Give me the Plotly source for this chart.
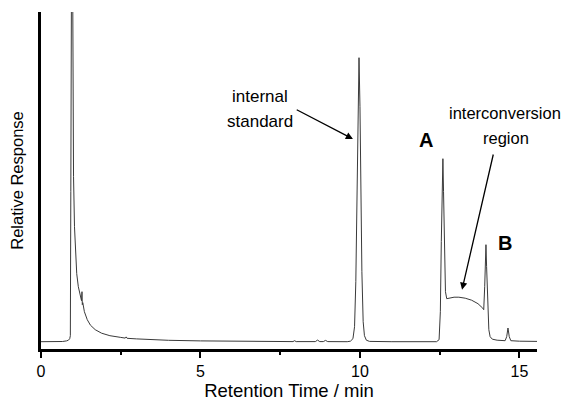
import plotly.graph_objects as go

# Chromatogram trace (time in min, response in arbitrary units above baseline)
time_min = [
    0.00, 0.40, 0.67, 0.80, 0.86, 0.90, 0.92, 0.935, 0.945, 0.965, 0.985, 0.995,
    1.00, 1.02, 1.05, 1.08, 1.12, 1.17, 1.22, 1.27, 1.285, 1.295, 1.31, 1.36,
    1.45, 1.55, 1.70, 1.90, 2.16, 2.50, 2.64, 2.67, 2.70, 3.00, 3.50, 4.00,
    5.00, 6.00, 7.00, 7.90, 7.95, 8.00, 8.60, 8.67, 8.74, 8.85, 8.92, 8.99,
    9.60, 9.70, 9.78, 9.83, 9.87, 9.91, 9.94, 9.97, 10.00, 10.03, 10.06, 10.10,
    10.14, 10.20, 10.30, 11.00, 12.40, 12.48, 12.52, 12.55, 12.58, 12.60, 12.62,
    12.65, 12.68, 12.72, 12.80, 12.95, 13.10, 13.30, 13.50, 13.70, 13.85, 13.88,
    13.91, 13.93, 13.95, 13.97, 14.00, 14.04, 14.08, 14.15, 14.30, 14.55, 14.60,
    14.64, 14.68, 14.73, 15.00, 15.55,
]
response = [
    0.0, 0.0, 0.2, 0.8, 1.5, 3.0, 6.0, 150.0, 420.0, 460.0, 420.0, 320.0,
    250.0, 165.0, 115.0, 88.0, 68.0, 55.0, 47.0, 41.0, 50.0, 37.0, 39.0, 30.0,
    22.0, 16.5, 12.0, 8.5, 6.0, 4.3, 3.6, 4.8, 3.4, 2.8, 2.0, 1.4,
    0.8, 0.4, 0.2, 0.1, 1.0, 0.1, 0.1, 1.6, 0.1, 0.1, 1.3, 0.1,
    0.0, 0.5, 3.0, 15.0, 60.0, 150.0, 240.0, 284.0, 235.0, 150.0, 70.0, 20.0,
    6.0, 1.5, 0.3, 0.0, 0.0, 2.0, 30.0, 100.0, 165.0, 183.0, 150.0,
    85.0, 50.0, 43.0, 43.5, 44.5, 44.5, 43.5, 41.5, 38.0, 33.5, 32.0,
    55.0, 85.0, 97.0, 75.0, 35.0, 12.0, 5.0, 2.5, 1.5, 1.0, 5.0,
    13.7, 5.0, 1.0, 0.5, 0.3,
]

x_ticks = [0, 5, 10, 15]
x_tick_labels = ["0", "5", "10", "15"]

FONT = "Liberation Sans, Arial, sans-serif"

fig = go.Figure()
fig.add_trace(go.Scatter(
    x=time_min, y=response, mode="lines",
    line=dict(color="#3a3a3a", width=1),
    hoverinfo="skip", showlegend=False,
))

annotations = [
    dict(x=6.85, y=245, text="internal", showarrow=False, xref="x", yref="y",
         font=dict(size=17, family=FONT, color="black")),
    dict(x=6.85, y=220, text="standard", showarrow=False, xref="x", yref="y",
         font=dict(size=17, family=FONT, color="black")),
    dict(x=9.78, y=202.7, ax=7.97, ay=232.7, axref="x", ayref="y", xref="x", yref="y",
         text="", showarrow=True, arrowhead=2, arrowsize=1.1, arrowwidth=1.3, arrowcolor="black"),
    dict(x=14.56, y=229, text="interconversion", showarrow=False, xref="x", yref="y",
         font=dict(size=16.5, family=FONT, color="black")),
    dict(x=14.58, y=204, text="region", showarrow=False, xref="x", yref="y",
         font=dict(size=16.5, family=FONT, color="black")),
    dict(x=13.20, y=52, ax=14.19, ay=188.7, axref="x", ayref="y", xref="x", yref="y",
         text="", showarrow=True, arrowhead=2, arrowsize=1.1, arrowwidth=1.3, arrowcolor="black"),
    dict(x=12.08, y=202, text="<b>A</b>", showarrow=False, xref="x", yref="y",
         font=dict(size=20, family=FONT, color="black")),
    dict(x=14.56, y=99, text="<b>B</b>", showarrow=False, xref="x", yref="y",
         font=dict(size=20, family=FONT, color="black")),
]

# The page body adds an 8 px margin, so the figure is 8 px smaller and margins are offset.
fig.update_layout(
    width=562, height=394,
    margin=dict(l=33, r=33, t=4, b=53),
    paper_bgcolor="white", plot_bgcolor="white",
    font=dict(family=FONT, color="black"),
    annotations=annotations,
    xaxis=dict(
        range=[0, 15.55], showgrid=False, zeroline=False, automargin=False,
        showline=True, linecolor="black", linewidth=3,
        tickmode="array", tickvals=x_ticks, ticktext=x_tick_labels,
        ticks="outside", ticklen=6, tickwidth=2, tickcolor="black",
        tickfont=dict(size=16, family=FONT),
        minor=dict(tickvals=[2.5, 7.5, 12.5], ticks="outside", ticklen=3, tickwidth=2, tickcolor="black"),
        title=dict(text="Retention Time / min", font=dict(size=18.5, family=FONT), standoff=4),
    ),
    yaxis=dict(
        range=[-7.3, 329.7], showgrid=False, zeroline=False, automargin=False,
        showline=True, linecolor="black", linewidth=3,
        showticklabels=False, ticks="",
        title=dict(text="Relative Response", font=dict(size=16.5, family=FONT), standoff=14),
    ),
)

fig.write_html("out.html")
